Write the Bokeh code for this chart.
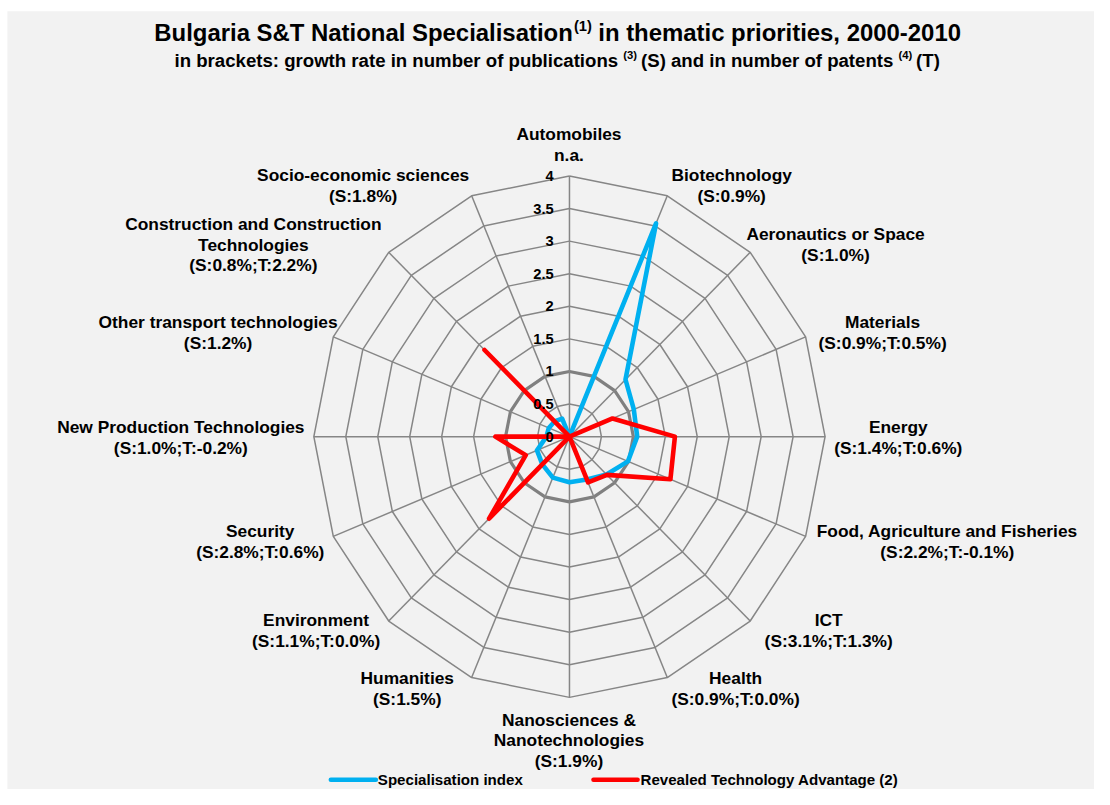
import math
from bokeh.plotting import figure
from bokeh.models import Range1d
from bokeh.core.properties import value
from bokeh.embed import file_html
from bokeh.resources import INLINE

# ---------------- data ----------------
categories = [
    "Automobiles\nn.a.",
    "Biotechnology\n(S:0.9%)",
    "Aeronautics or Space\n(S:1.0%)",
    "Materials\n(S:0.9%;T:0.5%)",
    "Energy\n(S:1.4%;T:0.6%)",
    "Food, Agriculture and Fisheries\n(S:2.2%;T:-0.1%)",
    "ICT\n(S:3.1%;T:1.3%)",
    "Health\n(S:0.9%;T:0.0%)",
    "Nanosciences &\nNanotechnologies\n(S:1.9%)",
    "Humanities\n(S:1.5%)",
    "Environment\n(S:1.1%;T:0.0%)",
    "Security\n(S:2.8%;T:0.6%)",
    "New Production Technologies\n(S:1.0%;T:-0.2%)",
    "Other transport technologies\n(S:1.2%)",
    "Construction and Construction\nTechnologies\n(S:0.8%;T:2.2%)",
    "Socio-economic sciences\n(S:1.8%)",
]
specialisation_index = [0.0, 3.54, 1.24, 1.09, 1.06, 0.99, 0.82, 0.71,
                        0.70, 0.68, 0.60, 0.55, 0.36, 0.35, 0.33, 0.30]
rta = [0.0, 0.0, 0.0, 0.73, 1.65, 1.71, 0.83, 0.76,
       0.0, 0.0, 1.78, 0.74, 1.16, 0.0, 1.88, 0.0]
ring_levels = [0.5, 1, 1.5, 2, 2.5, 3, 3.5, 4]
tick_labels = ["0", "0.5", "1", "1.5", "2", "2.5", "3", "3.5", "4"]
series_names = ["Specialisation index", "Revealed Technology Advantage (2)"]
title_parts = ["Bulgaria S&T National Specialisation", "(1)",
               "in thematic priorities, 2000-2010"]
subtitle_parts = ["in brackets: growth rate in number of publications", "(3)",
                  "(S) and in number of patents", "(4)", "(T)"]

# ---------------- layout ----------------
W, H = 1094, 789
S = H / 805.0              # shrink reference layout to fit the window
CX, CY = 580.5, 445.0      # reference pixel centre of the radar
SX, SY = 65.2, 66.5        # reference pixels per unit
N = len(categories)
angles = [2 * math.pi * i / N for i in range(N)]


def px(xp):
    return (xp - CX) / SX


def py(yp):
    return (CY - yp) / SY


def fs(size):
    return f"{size * S:.2f}px"


def polar(vals):
    xs = [v * math.sin(a) for v, a in zip(vals, angles)]
    ys = [v * math.cos(a) for v, a in zip(vals, angles)]
    return xs + xs[:1], ys + ys[:1]


# Arial / Liberation Sans Bold advance widths (1/1000 em)
_AW = {' ': 278, '&': 722, '(': 333, ')': 333, ',': 278, '-': 333, '.': 278,
       ':': 333, ';': 333, '%': 889}
_AW.update({d: 556 for d in "0123456789"})
_AW.update(dict(zip("ABCDEFGHIJKLMNOPQRSTUVWXYZ",
                    [722, 722, 722, 722, 667, 611, 778, 722, 278, 556, 722, 611, 833,
                     722, 778, 667, 778, 722, 667, 611, 722, 667, 944, 667, 667, 611])))
_AW.update(dict(zip("abcdefghijklmnopqrstuvwxyz",
                    [556, 611, 556, 611, 556, 333, 611, 611, 278, 278, 556, 278, 889,
                     611, 611, 611, 611, 389, 556, 333, 611, 556, 778, 556, 556, 500])))


def tw(t, size):
    return sum(_AW.get(c, 556) for c in t) * size / 1000.0


p = figure(width=W, height=H, output_backend="svg", toolbar_location=None,
           x_range=Range1d(px(0), px(W / S)), y_range=Range1d(py(H / S), py(0)),
           x_axis_type=None, y_axis_type=None, min_border=0)
p.background_fill_color = "#FFFFFF"
p.border_fill_color = "#FFFFFF"
p.outline_line_color = None
p.xgrid.visible = False
p.ygrid.visible = False

# chart area panel
p.quad(left=[px(7)], right=[px(1200)], top=[py(11)], bottom=[py(900)],
       fill_color="#F2F2F2", line_color=None)

FONT = value("Liberation Sans")
GRID = "#868686"

# rings
for lv in ring_levels:
    xs, ys = polar([lv] * N)
    if lv == 1:
        p.line(xs, ys, line_color="#808080", line_width=3.2)
    else:
        p.line(xs, ys, line_color=GRID, line_width=1.5)

# spokes
R = max(ring_levels)
p.segment(x0=[0] * N, y0=[0] * N,
          x1=[R * math.sin(a) for a in angles], y1=[R * math.cos(a) for a in angles],
          line_color=GRID, line_width=1.5)

# series
xs, ys = polar(specialisation_index)
p.line(xs, ys, line_color="#00B0F0", line_width=4.6, line_join="round")
xs, ys = polar(rta)
p.line(xs, ys, line_color="#FF0000", line_width=4.6, line_join="round")

# radial tick labels
tick_vals = [0] + ring_levels
p.text(x=[0] * len(tick_vals), y=tick_vals, text=tick_labels, x_offset=-16 * S,
       text_align="right", text_baseline="middle", text_font=FONT,
       text_font_style="bold", text_font_size=fs(15), text_color="#000000")

# category labels (reference pixel centres of each label block)
label_px = [(580, 147), (746, 189), (852, 249), (900, 339), (916, 446),
            (966, 552), (845, 643), (750, 702), (580, 755), (415, 702),
            (322, 643), (265, 552), (184, 446), (222, 339), (258, 249),
            (370, 189)]
p.text(x=[px(a) for a, b in label_px], y=[py(b) for a, b in label_px],
       text=categories, text_align="center", text_baseline="middle",
       text_font=FONT, text_font_style="bold", text_font_size=fs(17.7),
       text_line_height=1.03, text_color="#000000")


def rich_line(parts, sizes, raises, gaps, cx, cy):
    total = sum(tw(t, s) for t, s in zip(parts, sizes)) + sum(gaps)
    x = cx - total / 2
    for i, (t, s, r) in enumerate(zip(parts, sizes, raises)):
        p.text(x=[px(x)], y=[py(cy - r)], text=[t], text_align="left",
               text_baseline="middle", text_font=FONT, text_font_style="bold",
               text_font_size=fs(s), text_color="#000000")
        x += tw(t, s) + (gaps[i] if i < len(gaps) else 0)


# title and subtitle
rich_line(title_parts, [24.4, 15, 24.4], [0, 7, 0], [1, 6.5], 568.5, 33)
rich_line(subtitle_parts, [19, 11.5, 19, 11.5, 19], [0, 5, 0, 5, 0],
          [5, 4, 5, 4], 568, 61)

# legend
leg_y = py(795)
p.segment(x0=[px(337)], y0=[leg_y], x1=[px(383)], y1=[leg_y],
          line_color="#00B0F0", line_width=4.5, line_cap="round")
p.segment(x0=[px(605)], y0=[leg_y], x1=[px(650)], y1=[leg_y],
          line_color="#FF0000", line_width=4.5, line_cap="round")
p.text(x=[px(385), px(653)], y=[leg_y, leg_y], text=series_names,
       text_align="left", text_baseline="middle", text_font=FONT,
       text_font_style="bold", text_font_size=fs(15.4), text_color="#000000")

open("out.html", "w").write(file_html(p, INLINE))
